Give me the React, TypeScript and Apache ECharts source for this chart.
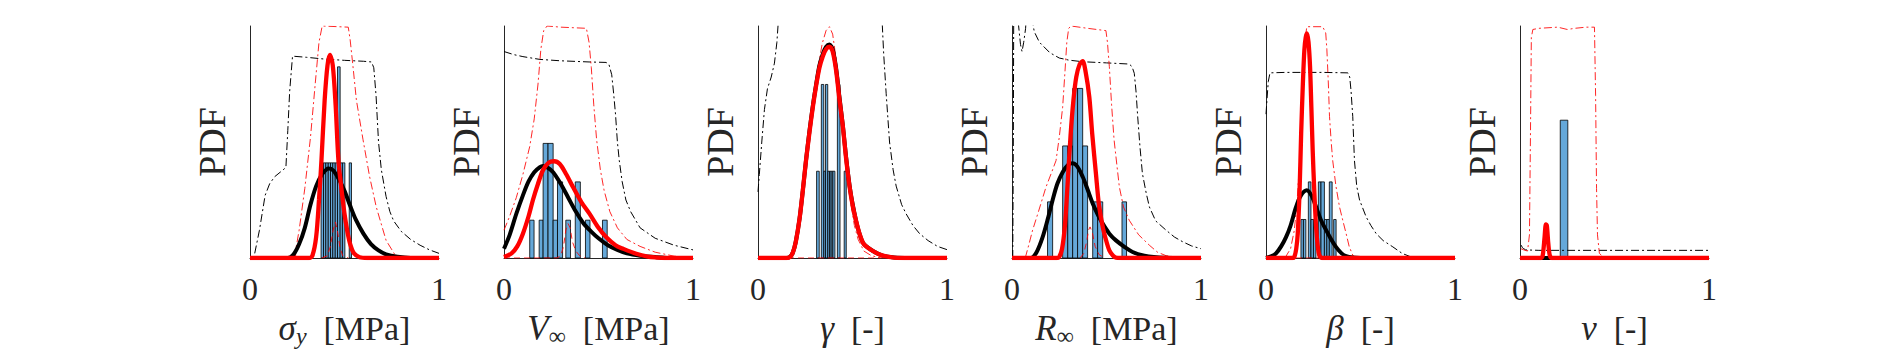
import React, { useEffect, useRef } from "react";
import * as echarts from "echarts";

// ---------- Data (x in [0,1], y as fraction of axis height) ----------
// Panel 1: sigma_y
const bars1 = [
  [0.376, 0.389, 0.41], [0.389, 0.401, 0.41], [0.401, 0.414, 0.41], [0.414, 0.426, 0.41],
  [0.426, 0.438, 0.41], [0.438, 0.451, 0.41], [0.451, 0.463, 0.41], [0.463, 0.477, 0.824],
  [0.477, 0.489, 0.41], [0.489, 0.502, 0.41], [0.525, 0.537, 0.41],
];
const blackDashDot1 = [
  [0.025, 0.02], [0.05, 0.12], [0.08, 0.27], [0.104, 0.32], [0.13, 0.35], [0.16, 0.37], [0.19, 0.39],
  [0.2, 0.55], [0.21, 0.72], [0.225, 0.87], [0.3, 0.865], [0.4, 0.857], [0.5, 0.852], [0.6, 0.848],
  [0.643, 0.845], [0.655, 0.82], [0.667, 0.7], [0.68, 0.5], [0.695, 0.38], [0.72, 0.265], [0.74, 0.2],
  [0.76, 0.16], [0.8, 0.115], [0.85, 0.08], [0.9, 0.055], [0.95, 0.035], [1.0, 0.02],
];
const redDashDot1 = [
  [0.24, 0.0], [0.245, 0.05], [0.26, 0.12], [0.29, 0.3], [0.32, 0.52], [0.345, 0.75], [0.365, 0.93],
  [0.382, 1.0], [0.52, 0.995], [0.53, 0.94], [0.545, 0.825], [0.563, 0.68], [0.598, 0.51],
  [0.633, 0.35], [0.668, 0.22], [0.72, 0.076], [0.77, 0.01], [0.8, 0], [1.0, 0],
];
const redDashed1 = [
  [0.38, 0], [0.41, 0.01], [0.425, 0.05], [0.44, 0.12], [0.452, 0.155], [0.462, 0.12], [0.475, 0.05],
  [0.49, 0.01], [0.52, 0],
];
const blackSolid1 = [
  [0, 0], [0.2, 0], [0.23, 0.015], [0.26, 0.06], [0.29, 0.13], [0.32, 0.23], [0.35, 0.31], [0.38, 0.36],
  [0.405, 0.382], [0.415, 0.386], [0.44, 0.378], [0.47, 0.34], [0.5, 0.29], [0.53, 0.225], [0.56, 0.165],
  [0.6, 0.105], [0.64, 0.06], [0.68, 0.033], [0.72, 0.016], [0.78, 0.005], [0.85, 0], [1, 0],
];
const redSolid1 = [
  [0, 0], [0.31, 0], [0.33, 0.01], [0.35, 0.09], [0.365, 0.25], [0.378, 0.42], [0.395, 0.68], [0.41, 0.83],
  [0.423, 0.875], [0.438, 0.83], [0.453, 0.66], [0.468, 0.42], [0.485, 0.29], [0.5, 0.19], [0.515, 0.115],
  [0.53, 0.06], [0.55, 0.02], [0.58, 0.003], [0.62, 0], [1, 0],
];

// Panel 2: V_inf
const bars2 = [
  [0.136, 0.159, 0.163], [0.186, 0.207, 0.163], [0.207, 0.233, 0.494], [0.233, 0.26, 0.494],
  [0.26, 0.283, 0.163], [0.283, 0.31, 0.328], [0.327, 0.352, 0.163], [0.377, 0.404, 0.328],
  [0.431, 0.455, 0.163], [0.521, 0.546, 0.163],
];
const blackDashDot2 = [
  [0, 0.89], [0.05, 0.877], [0.1, 0.868], [0.19, 0.856], [0.3, 0.85], [0.45, 0.845], [0.54, 0.843],
  [0.555, 0.835], [0.57, 0.79], [0.58, 0.71], [0.59, 0.62], [0.6, 0.5], [0.61, 0.42], [0.625, 0.33],
  [0.645, 0.25], [0.67, 0.2], [0.72, 0.13], [0.8, 0.085], [0.9, 0.055], [1.0, 0.035],
];
const redDashDot2 = [
  [0, 0.12], [0.03, 0.18], [0.065, 0.26], [0.1, 0.36], [0.136, 0.48], [0.16, 0.6], [0.18, 0.75],
  [0.195, 0.9], [0.21, 0.98], [0.228, 1.0], [0.3, 0.995], [0.436, 0.99], [0.45, 0.93], [0.462, 0.82],
  [0.475, 0.66], [0.49, 0.51], [0.51, 0.38], [0.53, 0.29], [0.56, 0.2], [0.6, 0.13], [0.65, 0.08],
  [0.72, 0.05], [0.8, 0.025], [0.9, 0.008], [1, 0],
];
const redDashed2 = [
  [0, 0], [0.28, 0], [0.3, 0.01], [0.315, 0.05], [0.327, 0.12], [0.339, 0.148], [0.35, 0.13],
  [0.362, 0.07], [0.38, 0.03], [0.4, 0.01], [0.43, 0],
];
const blackSolid2 = [
  [0, 0.04], [0.03, 0.1], [0.065, 0.19], [0.1, 0.27], [0.13, 0.33], [0.16, 0.37], [0.19, 0.392],
  [0.206, 0.397], [0.23, 0.39], [0.26, 0.37], [0.3, 0.32], [0.34, 0.26], [0.38, 0.2], [0.42, 0.15],
  [0.46, 0.115], [0.5, 0.085], [0.55, 0.055], [0.6, 0.035], [0.65, 0.02], [0.72, 0.01], [0.8, 0.004],
  [0.9, 0], [1, 0],
];
const redSolid2 = [
  [0, 0.004], [0.04, 0.02], [0.07, 0.05], [0.1, 0.105], [0.13, 0.18], [0.153, 0.25], [0.18, 0.32],
  [0.206, 0.378], [0.235, 0.41], [0.265, 0.417], [0.295, 0.405], [0.33, 0.36], [0.365, 0.306],
  [0.41, 0.24], [0.453, 0.19], [0.5, 0.13], [0.54, 0.09], [0.59, 0.055], [0.63, 0.04], [0.7, 0.018],
  [0.76, 0.006], [0.81, 0.002], [0.85, 0], [1, 0],
];

// Panel 3: gamma
const bars3 = [
  [0.31, 0.324, 0.374], [0.335, 0.348, 0.748], [0.348, 0.357, 0.374], [0.357, 0.369, 0.748],
  [0.369, 0.378, 0.374], [0.378, 0.387, 0.374], [0.387, 0.396, 0.374], [0.396, 0.407, 0.374],
  [0.42, 0.434, 0.748], [0.456, 0.467, 0.374],
];
const blackDashDot3 = [
  [0, 0.285], [0.007, 0.36], [0.02, 0.5], [0.034, 0.64], [0.05, 0.73], [0.07, 0.78], [0.087, 0.84],
  [0.1, 0.93], [0.11, 1.05], [0.13, 1.3], [0.63, 1.3], [0.655, 1.05], [0.665, 0.88], [0.678, 0.71],
  [0.696, 0.5], [0.715, 0.38], [0.731, 0.31], [0.76, 0.23], [0.784, 0.19], [0.82, 0.14], [0.855, 0.105],
  [0.9, 0.075], [0.95, 0.05], [1, 0.036],
];
const redDashDot3 = [
  [0.17, 0], [0.2, 0.06], [0.22, 0.16], [0.25, 0.4], [0.28, 0.6], [0.31, 0.79], [0.34, 0.925],
  [0.36, 0.98], [0.378, 0.997], [0.395, 0.965], [0.413, 0.86], [0.43, 0.72], [0.45, 0.55], [0.47, 0.38],
  [0.49, 0.24], [0.51, 0.14], [0.53, 0.08], [0.56, 0.03], [0.6, 0.01], [0.65, 0],
];
const redDashed3 = [[0, 0], [1, 0]];
const blackSolid3 = [
  [0, 0], [0.15, 0], [0.17, 0.005], [0.185, 0.025], [0.2, 0.07], [0.22, 0.17], [0.237, 0.29],
  [0.254, 0.42], [0.272, 0.545], [0.29, 0.655], [0.307, 0.745], [0.325, 0.83], [0.343, 0.88],
  [0.36, 0.91], [0.378, 0.92], [0.395, 0.9], [0.413, 0.82], [0.43, 0.7], [0.449, 0.57], [0.466, 0.435],
  [0.484, 0.315], [0.5, 0.235], [0.519, 0.16], [0.537, 0.105], [0.56, 0.06], [0.608, 0.03],
  [0.66, 0.01], [0.72, 0.002], [0.8, 0], [1, 0],
];
const redSolid3 = [
  [0, 0], [0.15, 0], [0.17, 0.005], [0.185, 0.025], [0.2, 0.07], [0.22, 0.17], [0.237, 0.29],
  [0.254, 0.42], [0.272, 0.54], [0.29, 0.65], [0.307, 0.74], [0.325, 0.82], [0.343, 0.87], [0.36, 0.9],
  [0.378, 0.911], [0.395, 0.89], [0.413, 0.81], [0.43, 0.69], [0.449, 0.567], [0.466, 0.43],
  [0.484, 0.31], [0.5, 0.23], [0.519, 0.16], [0.537, 0.105], [0.56, 0.06], [0.608, 0.03], [0.66, 0.01],
  [0.72, 0.002], [0.8, 0], [1, 0],
];

// Panel 4: R_inf
const bars4 = [
  [0.188, 0.215, 0.242], [0.268, 0.295, 0.483], [0.295, 0.321, 0.483], [0.321, 0.347, 0.731],
  [0.347, 0.374, 0.731], [0.374, 0.4, 0.483], [0.427, 0.453, 0.242], [0.453, 0.48, 0.242],
  [0.582, 0.606, 0.242],
];
const blackDashDot4 = [
  [0.004, 0], [0.007, 0.5], [0.01, 1.3], [0.025, 1.1], [0.035, 1.0], [0.045, 0.92], [0.053, 0.89],
  [0.062, 0.93], [0.072, 0.99], [0.08, 1.1], [0.095, 1.1], [0.108, 1.02], [0.118, 0.975], [0.145, 0.93],
  [0.2, 0.885], [0.25, 0.862], [0.3, 0.853], [0.374, 0.846], [0.5, 0.841], [0.62, 0.836], [0.635, 0.825],
  [0.647, 0.796], [0.656, 0.72], [0.665, 0.61], [0.677, 0.48], [0.69, 0.364], [0.71, 0.28],
  [0.727, 0.22], [0.76, 0.16], [0.815, 0.12], [0.86, 0.09], [0.903, 0.07], [0.95, 0.052], [1, 0.04],
];
const redDashDot4 = [
  [0.07, 0], [0.09, 0.06], [0.109, 0.12], [0.14, 0.2], [0.18, 0.306], [0.21, 0.37], [0.233, 0.42],
  [0.25, 0.52], [0.268, 0.65], [0.28, 0.8], [0.29, 0.93], [0.3, 0.99], [0.312, 1.0], [0.4, 0.99],
  [0.497, 0.98], [0.505, 0.93], [0.515, 0.825], [0.527, 0.66], [0.54, 0.51], [0.555, 0.4],
  [0.568, 0.306], [0.59, 0.22], [0.62, 0.163], [0.67, 0.1], [0.727, 0.055], [0.77, 0.025],
  [0.815, 0.01], [0.9, 0], [1, 0],
];
const redDashed4 = [
  [0.36, 0], [0.38, 0.02], [0.395, 0.07], [0.405, 0.12], [0.413, 0.134], [0.425, 0.11], [0.44, 0.05],
  [0.46, 0.015], [0.49, 0],
];
const blackSolid4 = [
  [0, 0], [0.1, 0], [0.13, 0.025], [0.162, 0.09], [0.19, 0.17], [0.215, 0.25], [0.24, 0.32],
  [0.268, 0.37], [0.295, 0.4], [0.32, 0.408], [0.345, 0.395], [0.374, 0.35], [0.4, 0.295],
  [0.427, 0.235], [0.455, 0.185], [0.48, 0.148], [0.515, 0.105], [0.55, 0.076], [0.6, 0.045],
  [0.638, 0.026], [0.7, 0.01], [0.75, 0.004], [0.85, 0], [1, 0],
];
const redSolid4 = [
  [0, 0], [0.235, 0], [0.25, 0.005], [0.265, 0.04], [0.28, 0.14], [0.295, 0.33], [0.31, 0.53],
  [0.325, 0.68], [0.34, 0.78], [0.358, 0.835], [0.374, 0.848], [0.39, 0.8], [0.409, 0.694], [0.425, 0.53],
  [0.444, 0.364], [0.46, 0.23], [0.48, 0.134], [0.5, 0.07], [0.515, 0.033], [0.535, 0.01],
  [0.55, 0.002], [0.6, 0], [1, 0],
];

// Panel 5: beta
const bars5 = [
  [0.185, 0.198, 0.166], [0.198, 0.211, 0.166], [0.224, 0.238, 0.328], [0.238, 0.251, 0.166],
  [0.251, 0.264, 0.166], [0.277, 0.291, 0.328], [0.291, 0.309, 0.328], [0.309, 0.322, 0.166],
  [0.322, 0.335, 0.166], [0.335, 0.35, 0.328], [0.358, 0.371, 0.166],
];
const blackDashDot5 = [
  [0, 0.62], [0.005, 0.68], [0.012, 0.76], [0.021, 0.798], [0.1, 0.8], [0.3, 0.8], [0.433, 0.798],
  [0.443, 0.78], [0.45, 0.72], [0.459, 0.61], [0.468, 0.42], [0.48, 0.31], [0.495, 0.25], [0.53, 0.177],
  [0.555, 0.14], [0.583, 0.105], [0.62, 0.075], [0.671, 0.048], [0.72, 0.02], [0.76, 0.007], [0.8, 0],
  [1, 0],
];
const redDashDot5 = [
  [0.1, 0], [0.13, 0.04], [0.15, 0.12], [0.165, 0.25], [0.178, 0.42], [0.19, 0.6], [0.2, 0.82],
  [0.208, 0.95], [0.216, 0.997], [0.3, 0.997], [0.316, 0.97], [0.322, 0.9], [0.33, 0.75], [0.336, 0.61],
  [0.345, 0.5], [0.353, 0.42], [0.37, 0.31], [0.389, 0.22], [0.41, 0.15], [0.424, 0.105], [0.44, 0.05],
  [0.46, 0.01], [0.48, 0], [1, 0],
];
const redDashed5 = [[0, 0], [1, 0]];
const blackSolid5 = [
  [0, 0], [0.03, 0.008], [0.053, 0.02], [0.08, 0.05], [0.106, 0.09], [0.13, 0.14], [0.159, 0.22],
  [0.185, 0.27], [0.216, 0.292], [0.24, 0.27], [0.265, 0.22], [0.29, 0.165], [0.318, 0.12],
  [0.345, 0.08], [0.371, 0.047], [0.4, 0.02], [0.424, 0.008], [0.46, 0.002], [0.5, 0], [1, 0],
];
const redSolid5 = [
  [0, 0], [0.14, 0], [0.15, 0.005], [0.16, 0.04], [0.168, 0.105], [0.178, 0.3], [0.186, 0.537],
  [0.195, 0.75], [0.203, 0.896], [0.21, 0.95], [0.217, 0.968], [0.225, 0.93], [0.233, 0.825],
  [0.24, 0.65], [0.247, 0.465], [0.256, 0.28], [0.265, 0.134], [0.274, 0.05], [0.283, 0.01],
  [0.3, 0], [1, 0],
];

// Panel 6: nu
const bars6 = [[0.213, 0.253, 0.594]];
const blackDashDot6 = [
  [0.007, 0.055], [0.012, 0.045], [0.02, 0.04], [0.03, 0.035], [0.1, 0.033], [1, 0.033],
];
const redDashDot6 = [
  [0.005, 0.04], [0.02, 0.035], [0.04, 0.03], [0.05, 0.1], [0.055, 0.5], [0.06, 0.95], [0.068, 0.985],
  [0.1, 0.99], [0.2, 0.995], [0.25, 0.985], [0.29, 0.99], [0.35, 0.995], [0.394, 0.995], [0.4, 0.7],
  [0.405, 0.3], [0.41, 0.1], [0.42, 0.02], [0.44, 0.005], [0.5, 0.003], [1, 0.003],
];
const redDashed6 = [[0, 0], [1, 0]];
const blackSolid6 = [[0, 0], [1, 0]];
const redSolid6 = [
  [0, 0], [0.11, 0], [0.12, 0.01], [0.13, 0.09], [0.137, 0.145], [0.142, 0.14], [0.15, 0.06],
  [0.158, 0.01], [0.17, 0], [1, 0],
];

const xTitles = [
  "{i|σ}{sub|y}{n|  [MPa]}",
  "{i|V}{subn|∞}{n|  [MPa]}",
  "{i|γ}{n|  [-]}",
  "{i|R}{subn|∞}{n|  [MPa]}",
  "{i|β}{n|  [-]}",
  "{i|ν}{n|  [-]}",
];
const xTickLabels = ["0", "1"];
const yTitle = "PDF";

const panels = [
  { bars: bars1, bdd: blackDashDot1, rdd: redDashDot1, rd: redDashed1, bs: blackSolid1, rs: redSolid1 },
  { bars: bars2, bdd: blackDashDot2, rdd: redDashDot2, rd: redDashed2, bs: blackSolid2, rs: redSolid2 },
  { bars: bars3, bdd: blackDashDot3, rdd: redDashDot3, rd: redDashed3, bs: blackSolid3, rs: redSolid3 },
  { bars: bars4, bdd: blackDashDot4, rdd: redDashDot4, rd: redDashed4, bs: blackSolid4, rs: redSolid4 },
  { bars: bars5, bdd: blackDashDot5, rdd: redDashDot5, rd: redDashed5, bs: blackSolid5, rs: redSolid5 },
  { bars: bars6, bdd: blackDashDot6, rdd: redDashDot6, rd: redDashed6, bs: blackSolid6, rs: redSolid6 },
];

const FONT = "Liberation Serif";
const TXT = "#262626";

export default function App() {
  const ref = useRef<HTMLDivElement>(null);
  useEffect(() => {
    if (!ref.current) return;
    const chart = echarts.init(ref.current, null, { renderer: "svg" });
    const grid: any[] = [];
    const xAxis: any[] = [];
    const yAxis: any[] = [];
    const series: any[] = [];
    const dashDot = [8, 3, 2, 3];

    panels.forEach((p, i) => {
      grid.push({ left: 250 + 254 * i, top: 26, width: 189, height: 232 });
      xAxis.push({
        type: "value",
        gridIndex: i,
        min: 0,
        max: 1,
        interval: 1,
        axisLine: { show: true, onZero: false, lineStyle: { color: TXT, width: 1 } },
        axisTick: { show: false },
        splitLine: { show: false },
        axisLabel: {
          margin: 15,
          fontSize: 32,
          fontFamily: FONT,
          color: TXT,
          formatter: (v: number) => (v === 0 ? xTickLabels[0] : xTickLabels[1]),
        },
        name: xTitles[i],
        nameLocation: "middle",
        nameGap: 51,
        nameTextStyle: {
          fontFamily: FONT,
          fontSize: 34,
          color: TXT,
          lineHeight: 38,
          rich: {
            i: { fontFamily: FONT, fontStyle: "italic", fontSize: 35, lineHeight: 38, color: TXT },
            sub: {
              fontFamily: FONT, fontStyle: "italic", fontSize: 24, lineHeight: 24,
              verticalAlign: "bottom", color: TXT,
            },
            subn: {
              fontFamily: FONT, fontSize: 24, lineHeight: 24, verticalAlign: "bottom", color: TXT,
            },
            n: { fontFamily: FONT, fontSize: 34, lineHeight: 38, color: TXT },
          },
        },
      });
      yAxis.push({
        type: "value",
        gridIndex: i,
        min: 0,
        max: 1,
        axisLine: { show: true, lineStyle: { color: TXT, width: 1 } },
        axisTick: { show: false },
        axisLabel: { show: false },
        splitLine: { show: false },
        name: yTitle,
        nameLocation: "middle",
        nameRotate: 90,
        nameGap: 19,
        nameTextStyle: { fontFamily: FONT, fontSize: 38, color: TXT },
      });

      series.push({
        type: "custom",
        xAxisIndex: i,
        yAxisIndex: i,
        silent: true,
        z: 1,
        encode: { x: [0, 1], y: 2 },
        data: p.bars,
        renderItem: (params: any, api: any) => {
          const p0 = api.coord([api.value(0), api.value(2)]);
          const p1 = api.coord([api.value(1), 0]);
          return {
            type: "rect",
            shape: { x: p0[0], y: p0[1], width: p1[0] - p0[0], height: p1[1] - p0[1] },
            style: { fill: "#65A8D9", stroke: "#000", lineWidth: 0.8 },
          };
        },
      });
      const line = (data: number[][], color: string, width: number, type: any, z: number, smooth: any, opacity = 1) => ({
        type: "line",
        xAxisIndex: i,
        yAxisIndex: i,
        data,
        symbol: "none",
        showSymbol: false,
        silent: true,
        smooth,
        z,
        lineStyle: { color, width, type, opacity },
      });
      series.push(line(p.bdd, "#000000", 1, dashDot, 2, false));
      series.push(line(p.rdd, "#FF0000", 1, dashDot, 2, false, 0.85));
      series.push(line(p.rd, "#FF0000", 1, [6, 4], 3, false, 0.85));
      series.push(line(p.bs, "#000000", 4, "solid", 4, 0.3));
      series.push(line(p.rs, "#FF0000", 4.3, "solid", 5, 0.3));
    });

    chart.setOption({
      animation: false,
      backgroundColor: "#ffffff",
      grid,
      xAxis,
      yAxis,
      series,
    });
    return () => chart.dispose();
  }, []);

  return (
    <div
      ref={ref}
      style={{ position: "fixed", left: 0, top: 0, width: 1890, height: 354, background: "#fff" }}
    />
  );
}
